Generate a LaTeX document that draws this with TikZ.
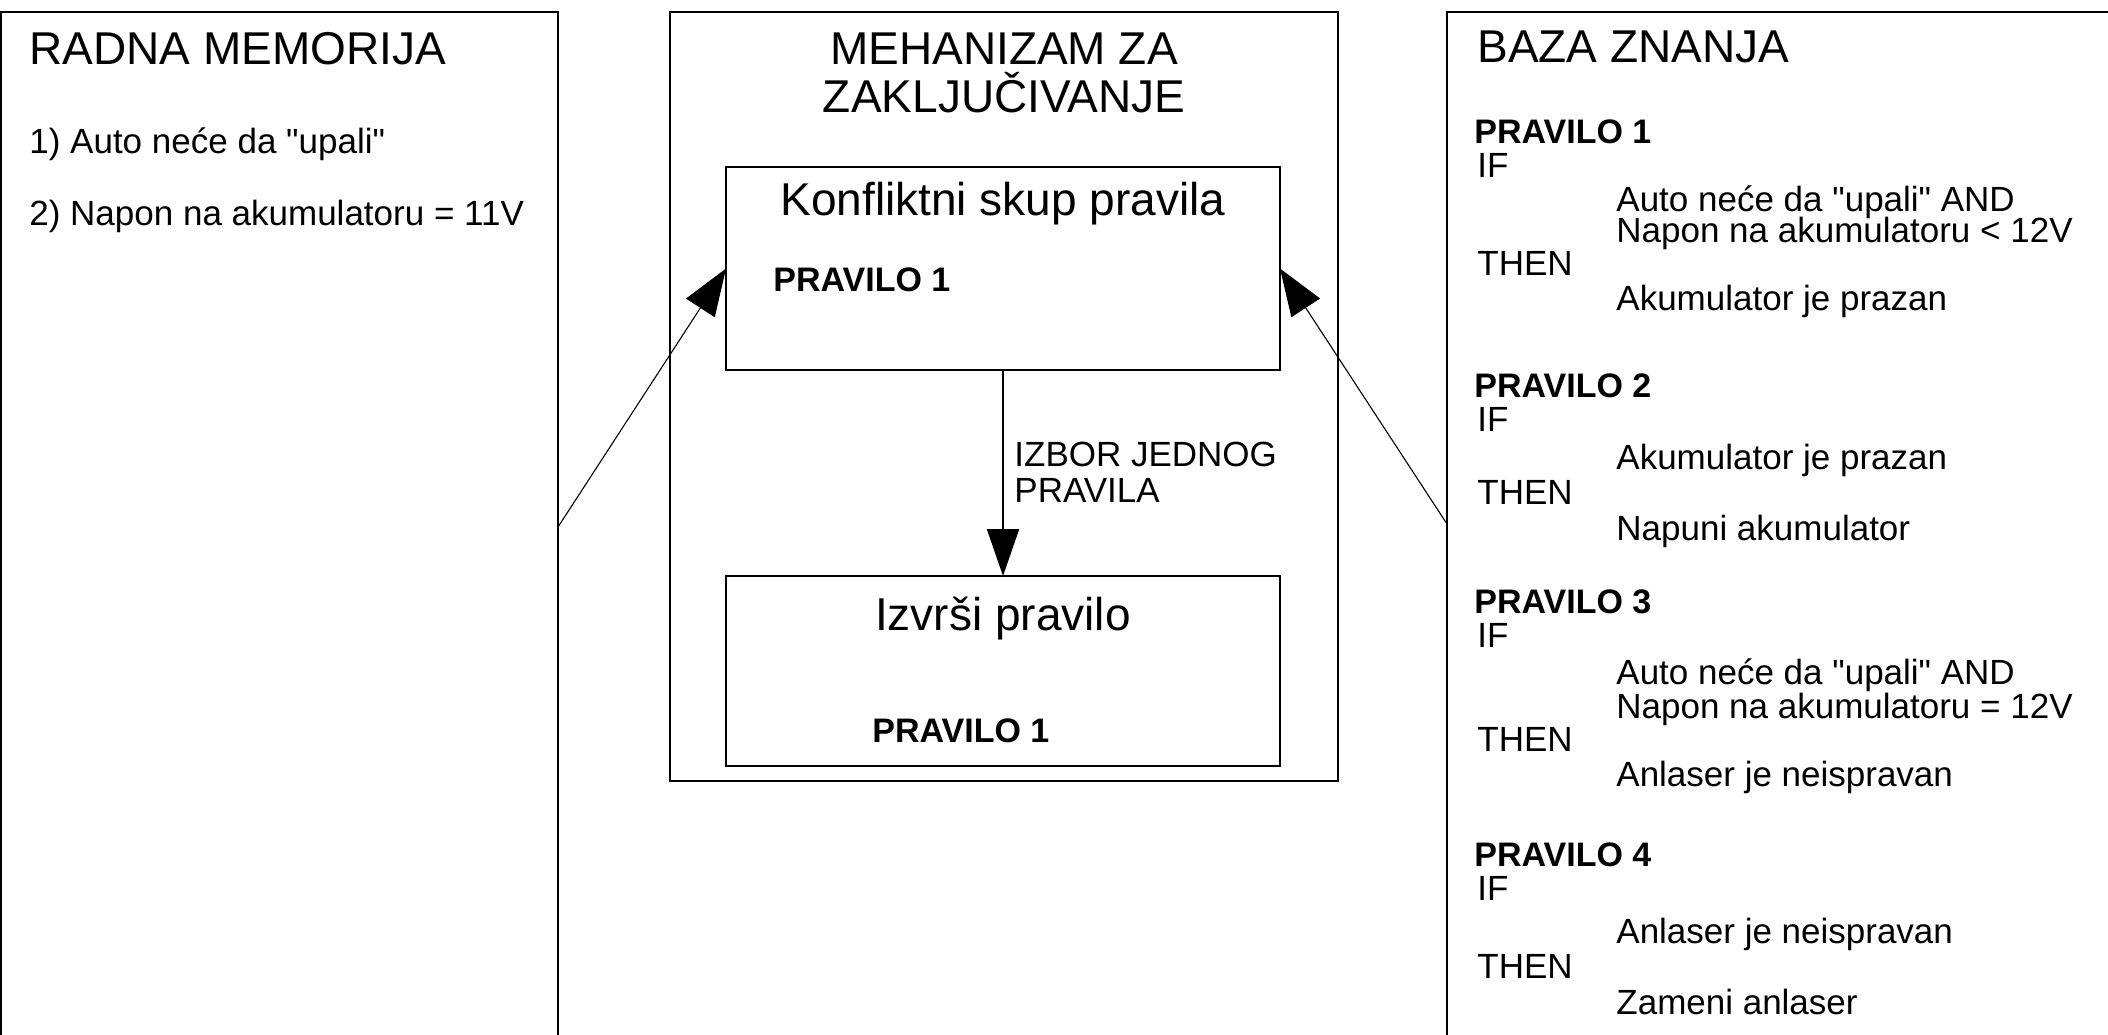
\documentclass[tikz,border=0pt]{standalone}
\usepackage{fontspec}
\setmainfont{Liberation Sans}[Ligatures=TeXOff]
\usetikzlibrary{arrows.meta}
\begin{document}
\begin{tikzpicture}[x=0.5pt,y=-0.5pt,
  frame/.style={draw, line width=1.35pt, inner sep=0pt, outer sep=0pt},
  edge/.style={line width=1.35pt},
  big/.style={inner sep=0pt, font=\fontsize{23}{27}\selectfont},
  small/.style={inner sep=0pt, anchor=base west, font=\fontsize{17.5}{21}\selectfont},
  rulehead/.style={inner sep=0pt, anchor=base west, font=\fontsize{17}{20}\selectfont\bfseries},
  thinarrow/.style={line width=0.55pt, -{Triangle[length=23.5pt,width=17pt]}},
  vertarrow/.style={line width=1pt, -{Triangle[length=23.5pt,width=16pt]}}
]
\useasboundingbox (0,0) rectangle (2108,1034);

% open side boxes
\draw[edge] (1,1040) -- (1,12) -- (558,12) -- (558,1040);
\draw[edge] (1447,1040) -- (1447,12) -- (2115,12);

% middle boxes
\node[frame, minimum width=334pt, minimum height=384.5pt] (mech) at (1004,396.5) {};
\node[frame, minimum width=277pt, minimum height=101.5pt] (konf) at (1003,268.5) {};
\node[frame, minimum width=277pt, minimum height=95pt] (izv) at (1003,671) {};

% titles
\node[big, anchor=base west] (radna) at (29,64) {RADNA MEMORIJA};
\node[big, anchor=base west] (baza) at (1477,62) {BAZA ZNANJA};
\node[big, anchor=base] (meh1) at (1004,64) {MEHANIZAM ZA};
\node[big, anchor=base] (meh2) at (1004,112) {ZAKLJUČIVANJE};
\node[big, anchor=base] (konft) at (1003,215) {Konfliktni skup pravila};
\node[big, anchor=base] (izvt) at (1003,630) {Izvrši pravilo};

% middle contents
\node[rulehead] (konfp) at (773,291) {PRAVILO 1};
\node[rulehead] (izvp) at (872,742) {PRAVILO 1};
\node[small] (izbor1) at (1014,466) {IZBOR JEDNOG};
\node[small] (izbor2) at (1014,502) {PRAVILA};

% working memory
\node[small] (wm1) at (29,153) {1) Auto neće da "upali"};
\node[small] (wm2) at (29,225) {2) Napon na akumulatoru = 11V};

% knowledge base
\node[rulehead] (p1) at (1474,143) {PRAVILO 1};
\node[small] (p1if) at (1477,177) {IF};
\node[small] (p1a) at (1616,211) {Auto neće da "upali" AND};
\node[small] (p1b) at (1616,242) {Napon na akumulatoru < 12V};
\node[small] (p1then) at (1477,275) {THEN};
\node[small] (p1c) at (1616,310) {Akumulator je prazan};

\node[rulehead] (p2) at (1474,397) {PRAVILO 2};
\node[small] (p2if) at (1477,431) {IF};
\node[small] (p2a) at (1616,469) {Akumulator je prazan};
\node[small] (p2then) at (1477,504) {THEN};
\node[small] (p2c) at (1616,540) {Napuni akumulator};

\node[rulehead] (p3) at (1474,613) {PRAVILO 3};
\node[small] (p3if) at (1477,647) {IF};
\node[small] (p3a) at (1616,684) {Auto neće da "upali" AND};
\node[small] (p3b) at (1616,718) {Napon na akumulatoru = 12V};
\node[small] (p3then) at (1477,751) {THEN};
\node[small] (p3c) at (1616,786) {Anlaser je neispravan};

\node[rulehead] (p4) at (1474,866) {PRAVILO 4};
\node[small] (p4if) at (1477,900) {IF};
\node[small] (p4a) at (1616,943) {Anlaser je neispravan};
\node[small] (p4then) at (1477,978) {THEN};
\node[small] (p4c) at (1616,1014) {Zameni anlaser};

% connectors
\coordinate (memout) at (558,527);
\coordinate (kbout) at (1447,524);
\draw[thinarrow] (memout) -- (konf.west);
\draw[thinarrow] (kbout) -- (konf.east);
\draw[vertarrow] (konf.south) -- (izv.north);
\end{tikzpicture}
\end{document}
